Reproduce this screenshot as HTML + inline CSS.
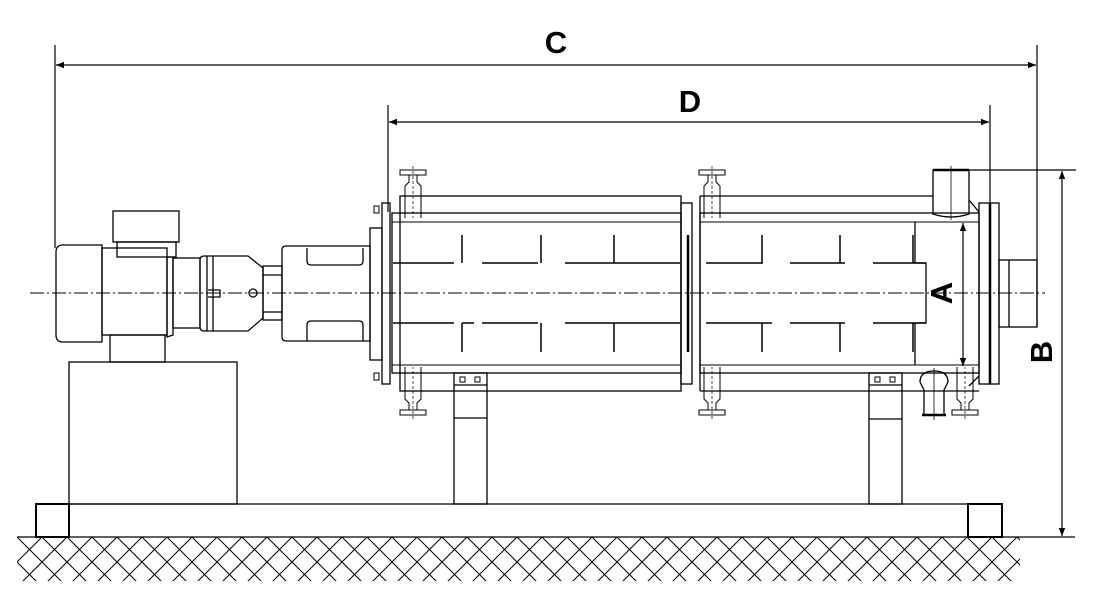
<!DOCTYPE html>
<html><head><meta charset="utf-8"><style>
html,body{margin:0;padding:0;background:#fff;}
svg{display:block}
text{font-family:"Liberation Sans",sans-serif;font-weight:bold;fill:#000}
</style></head><body>
<svg width="1094" height="600" viewBox="0 0 1094 600" xmlns="http://www.w3.org/2000/svg">
<defs>
<pattern id="h" patternUnits="userSpaceOnUse" x="17" y="537" width="25" height="25">
<path d="M0 0L25 25M25 0L0 25" stroke="#000" stroke-width="1"/>
</pattern>
<marker id="ar" viewBox="0 0 10 10" refX="10" refY="5" markerWidth="14" markerHeight="8" orient="auto-start-reverse" markerUnits="userSpaceOnUse"><path d="M0 1L10 5L0 9Z" fill="#000"/></marker>
<g id="pin"><rect x="-13" y="0" width="26" height="5" fill="#fff" stroke="#000"/><path d="M-4 5V12L-8 16V48M4 5V12L8 16V48" fill="none" stroke="#000"/><line x1="0" y1="-4" x2="0" y2="48" stroke="#000" stroke-width="0.7" stroke-dasharray="3,2"/></g>
</defs>
<g fill="none" stroke="#000" stroke-width="1.3">
<!-- ground hatch -->
<rect x="17" y="537" width="1003" height="44" fill="url(#h)" stroke="none"/>
<line x1="17" y1="537" x2="1075" y2="537"/>
<!-- base -->
<rect x="36" y="504" width="33" height="33" stroke-width="2"/>
<rect x="968" y="504" width="34" height="33" stroke-width="2"/>
<line x1="69" y1="504" x2="968" y2="504"/>
<!-- motor stand -->
<rect x="69" y="362" width="168" height="142"/>
<rect x="110" y="335" width="55" height="27"/>
<!-- motor -->
<path d="M102 245H63Q56 245 56 252V335Q56 342 63 342H102Z"/>
<rect x="102" y="248" width="65" height="87"/>
<rect x="113" y="211" width="66" height="31"/>
<rect x="117" y="242" width="59" height="15"/>
<path d="M167 257H173V335L167 337Z"/>
<rect x="173" y="258" width="27" height="70"/>
<path d="M204 256H248L263 268V318L248 331H204Q200 331 200 327V260Q200 256 204 256Z"/>
<line x1="207" y1="256" x2="207" y2="331"/><line x1="213" y1="256" x2="213" y2="331"/>
<path d="M208 290H220V297H208"/>
<circle cx="253" cy="293" r="4"/>
<rect x="263" y="266" width="19" height="54"/>
<line x1="263" y1="275" x2="282" y2="275"/><line x1="263" y1="312" x2="282" y2="312"/>
<path d="M286 246H370V341H286Q282 341 282 337V250Q282 246 286 246Z"/>
<path d="M307 248V261Q307 265 311 265H359Q363 265 363 261V248"/>
<path d="M307 341V325Q307 321 311 321H359Q363 321 363 325V341"/>
<rect x="370" y="228" width="12" height="132"/>
<rect x="382" y="203" width="8" height="181"/>
<rect x="374" y="206" width="5" height="7" stroke-width="1"/><rect x="374" y="373" width="5" height="7" stroke-width="1"/>
<!-- drum 1 -->
<rect x="400" y="196" width="281" height="195"/>
<rect x="392" y="213" width="289" height="160"/>
<line x1="392" y1="222" x2="681" y2="222" stroke-width="1"/>
<line x1="392" y1="365" x2="681" y2="365" stroke-width="1"/>
<rect x="681" y="203" width="11" height="181"/>
<line x1="688" y1="235" x2="688" y2="352" stroke-width="2.5"/>
<!-- drum 2 -->
<path d="M700 196H933M700 391H979M700 196V391"/>
<rect x="700" y="213" width="279" height="160"/>
<line x1="700" y1="222" x2="979" y2="222" stroke-width="1"/>
<line x1="700" y1="365" x2="979" y2="365" stroke-width="1"/>
<path d="M915 222V263H926V323H915V365"/>
<!-- outlet top -->
<path d="M933 170H969V214Q951 220 933 214Z"/>
<line x1="933" y1="170" x2="969" y2="170" stroke-width="2.5"/>
<line x1="969" y1="200" x2="979" y2="212"/>
<line x1="951" y1="166" x2="951" y2="220" stroke-width="0.8"/>
<!-- end flanges -->
<rect x="979" y="203" width="11" height="181"/>
<rect x="990" y="203" width="9" height="181"/>
<line x1="990" y1="203" x2="990" y2="384" stroke-width="2.5"/>
<rect x="999" y="260" width="38" height="67"/>
<line x1="1009" y1="260" x2="1009" y2="327"/>
<line x1="969" y1="386" x2="979" y2="376"/>
<!-- bottom nozzle -->
<path d="M920 382Q920 371 934 371Q948 371 948 382L944 390V415H924V390Z"/>
<line x1="922" y1="415" x2="946" y2="415" stroke-width="2.5"/>
<line x1="934" y1="368" x2="934" y2="420" stroke-width="0.8"/>
<!-- legs -->
<rect x="454" y="373" width="33" height="131"/>
<line x1="454" y1="385" x2="487" y2="385"/><line x1="454" y1="418" x2="487" y2="418"/>
<rect x="460" y="377" width="5" height="5" stroke-width="1"/><rect x="475" y="377" width="5" height="5" stroke-width="1"/>
<rect x="869" y="373" width="33" height="131"/>
<line x1="869" y1="385" x2="902" y2="385"/><line x1="869" y1="419" x2="902" y2="419"/>
<rect x="875" y="377" width="5" height="5" stroke-width="1"/><rect x="890" y="377" width="5" height="5" stroke-width="1"/>
<!-- paddles drum1 -->
<g stroke-width="1.5">
<path d="M393 263H454M482 263H538M565 263H680M462 235V263M541 235V263M614 235V263"/>
<path d="M393 323H454M462 323H474M482 323H538M565 323H680M462 323V352M541 323V352M614 323V352"/>
<path d="M706 263H763M790 263H845M873 263H926M762 235V263M840 235V263M913 235V263"/>
<path d="M706 323H772M790 323H845M873 323H926M762 323V352M840 323V352M913 323V352"/>
</g>
</g>
<!-- pins -->
<use href="#pin" transform="translate(413,170)"/>
<use href="#pin" transform="translate(712,170)"/>
<use href="#pin" transform="translate(413,415) scale(1,-1)"/>
<use href="#pin" transform="translate(712,415) scale(1,-1)"/>
<use href="#pin" transform="translate(965,415) scale(1,-1)"/>
<!-- centerline -->
<line x1="30" y1="293" x2="1045" y2="293" stroke="#000" stroke-width="1" stroke-dasharray="14,3,2,3"/>
<!-- dimensions -->
<g stroke="#000" stroke-width="1.2" fill="none">
<line x1="55" y1="45" x2="55" y2="248"/>
<line x1="1037" y1="45" x2="1037" y2="327"/>
<line x1="56" y1="65" x2="1036" y2="65" marker-start="url(#ar)" marker-end="url(#ar)"/>
<line x1="388" y1="105" x2="388" y2="212"/>
<line x1="990" y1="105" x2="990" y2="203"/>
<line x1="389" y1="122" x2="989" y2="122" marker-start="url(#ar)" marker-end="url(#ar)"/>
<line x1="940" y1="170" x2="1076" y2="170"/>
<line x1="1062" y1="171" x2="1062" y2="536" marker-start="url(#ar)" marker-end="url(#ar)"/>
<line x1="963" y1="223" x2="963" y2="366" marker-start="url(#ar)" marker-end="url(#ar)"/>
</g>
<text x="556" y="53" font-size="31" text-anchor="middle">C</text>
<text x="690" y="112" font-size="31" text-anchor="middle">D</text>
<text transform="translate(952,293) rotate(-90)" font-size="31" text-anchor="middle">A</text>
<text transform="translate(1052,352) rotate(-90)" font-size="31" text-anchor="middle">B</text>
</svg>
</body></html>
